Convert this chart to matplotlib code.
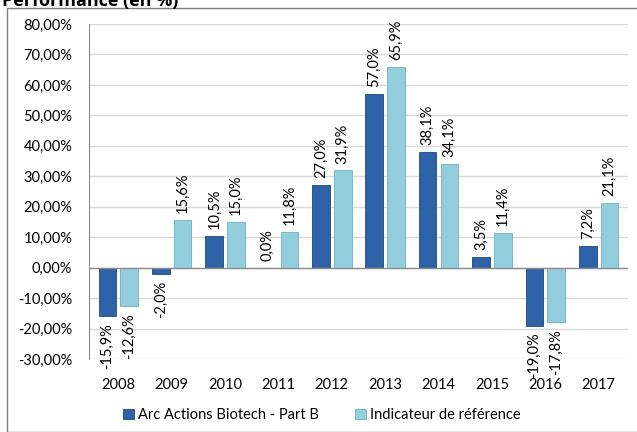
import matplotlib
matplotlib.use("Agg")
import matplotlib.pyplot as plt
from matplotlib.patches import Rectangle
import numpy as np

years = ["2008", "2009", "2010", "2011", "2012", "2013", "2014", "2015", "2016", "2017"]
fund = [-15.9, -2.0, 10.5, 0.0, 27.0, 57.0, 38.1, 3.5, -19.0, 7.2]
bench = [-12.6, 15.6, 15.0, 11.8, 31.9, 65.9, 34.1, 11.4, -17.8, 21.1]
series_names = ["Arc Actions Biotech - Part B", "Indicateur de référence"]
yticks = [80, 70, 60, 50, 40, 30, 20, 10, 0, -10, -20, -30]

FONT = "Lato"
FS = 10.5
c_dark = "#2E62A6"
c_light = "#93CEDD"

fig = plt.figure(figsize=(6.37, 4.32), dpi=100)
W, H = 637, 432

# outer frame
fig.patches.append(Rectangle((7 / W, 0), 1.2, 1 - 8 / H, transform=fig.transFigure,
                             fill=False, edgecolor="#7f7f7f", lw=1.0))
fig.text(2 / W, 1 - 6 / H, "Performance (en %)", fontsize=13, fontweight="bold",
         family="Open Sans", va="baseline", ha="left")

ax = fig.add_axes([89 / W, 1 - 359 / H, (628 - 89) / W, (359 - 24) / H])
x = np.arange(len(years))
w = 0.33
off = 0.205
b1 = ax.bar(x - off, fund, w, color=c_dark, edgecolor="#1f4a80", lw=0.6, zorder=3)
b2 = ax.bar(x + off, bench, w, color=c_light, edgecolor="#6fb0c2", lw=0.6, zorder=3)

ax.set_ylim(-30, 80)
ax.set_xlim(-0.55, len(years) - 0.45)
ax.set_yticks(yticks)
ax.set_yticklabels([f"{v},00%" for v in yticks], family=FONT, fontsize=FS)
ax.set_xticks(x)
ax.set_xticklabels(years, family=FONT, fontsize=FS)
ax.tick_params(axis="y", length=0, pad=12)
ax.tick_params(axis="x", length=0, pad=14)
for s in ["top", "right", "bottom"]:
    ax.spines[s].set_visible(False)
ax.spines["left"].set_color("#8c8c8c")
ax.grid(axis="y", color="#d9d9d9", lw=1.0, zorder=0)
ax.axhline(0, color="#8c8c8c", lw=1.0, zorder=4)

def lab(v):
    return f"{v:.1f}".replace(".", ",") + "%"

for xs, vals in [(x - off, fund), (x + off, bench)]:
    for xi, v in zip(xs, vals):
        if v >= 0:
            ax.annotate(lab(v), (xi, v), xytext=(0, 5), textcoords="offset points",
                        rotation=90, ha="center", va="bottom", family=FONT, fontsize=FS,
                        zorder=5, annotation_clip=False)
        else:
            ax.annotate(lab(v), (xi, v), xytext=(0, -5), textcoords="offset points",
                        rotation=90, ha="center", va="top", family=FONT, fontsize=FS,
                        zorder=5, annotation_clip=False)

leg = fig.legend([b1, b2], series_names, loc="center", bbox_to_anchor=(322 / W, 1 - 415 / H),
                 ncol=2, frameon=False, prop={"family": FONT, "size": FS},
                 handlelength=0.7, handleheight=0.7, handletextpad=0.3, columnspacing=2.5)

fig.savefig("out.png", dpi=100)
